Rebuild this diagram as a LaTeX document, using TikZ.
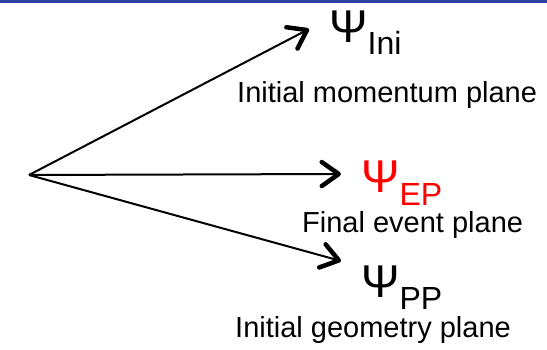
\documentclass[tikz,border=0pt]{standalone}
\usepackage{fontspec}
\setmainfont{Liberation Sans}
\usetikzlibrary{arrows.meta}
\definecolor{slideblue}{RGB}{42,64,160}
\newcommand{\planesub}[2]{\raisebox{-#1}{\fontsize{32}{32}\selectfont #2}}

\begin{document}
\begin{tikzpicture}[x=1pt, y=1pt, >={Straight Barb[length=17pt, width=24pt, line width=4.5pt, round]},
	plane/.style={anchor=base west, inner sep=0pt, font=\fontsize{29}{29}\selectfont},
	psi/.style={anchor=base west, inner sep=0pt, font=\fontsize{46}{46}\selectfont}]
	\useasboundingbox (0, 0) rectangle (547, 350);
	\draw[slideblue, line width=3pt] (0, 348.5) -- (547, 348.5);

	\coordinate (O) at (29, 175);
	\coordinate (tipIni) at (309, 321);
	\coordinate (tipEP) at (341, 176);
	\coordinate (tipPP) at (341, 89);

	\node[psi] (psiIni) at (329, 307) {Ψ\planesub{12pt}{Ini}};
	\node[psi, red] (psiEP) at (361, 157) {Ψ\planesub{13pt}{EP}};
	\node[psi] (psiPP) at (361, 52) {Ψ\planesub{12pt}{PP}};

	\node[plane] (momentum) at (237, 247) {Initial momentum plane};
	\node[plane] (event) at (302, 117) {Final event plane};
	\node[plane] (geometry) at (235, 12) {Initial geometry plane};

	\draw[line width=2pt, ->] (O) -- (tipIni);
	\draw[line width=2pt, ->] (O) -- (tipEP);
	\draw[line width=2pt, ->] (O) -- (tipPP);
\end{tikzpicture}
\end{document}
